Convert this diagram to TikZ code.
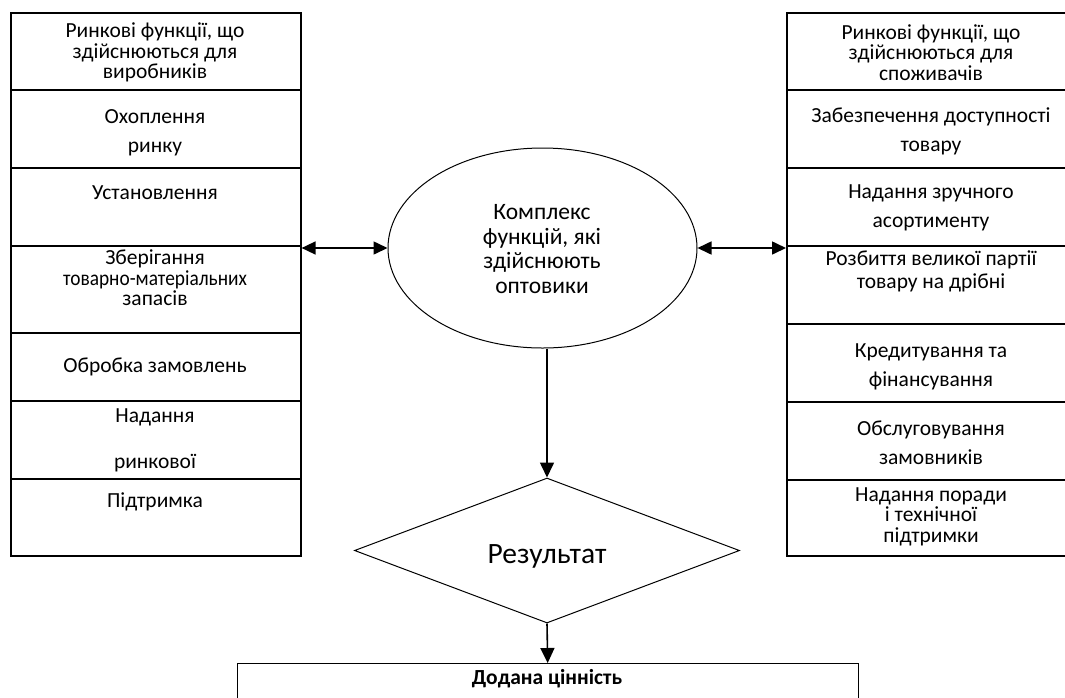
\documentclass[tikz,border=0pt]{standalone}
\usepackage{fontspec}
\setmainfont{Carlito}
\newfontfamily\narrowfont[FakeStretch=0.9]{Carlito}
\usetikzlibrary{shapes.geometric,arrows.meta}

\begin{document}
\begin{tikzpicture}[x=1pt,y=-1pt,
  cell/.style={draw, line width=1.6pt, inner sep=0, minimum width=290pt, anchor=north west},
  lbl/.style={inner sep=0, align=center, font=\fontsize{21.5}{20.5}\selectfont},
  wide/.style={lbl, font=\fontsize{21.5}{29}\selectfont},
  flow/.style={line width=1.6pt, -{Triangle[length=15pt,width=14pt]}},
  twoway/.style={line width=1.6pt, {Triangle[length=14pt,width=13pt]}-{Triangle[length=14pt,width=13pt]}},
]
\useasboundingbox (0,0) rectangle (1065,697);
\clip (0,0) rectangle (1065,697);

% left column: functions for producers
\node[cell, minimum height=77pt] (L1) at (10,12) {};
\node[cell, minimum height=78pt] (L2) at (10,89) {};
\node[cell, minimum height=78pt] (L3) at (10,167) {};
\node[cell, minimum height=87pt] (L4) at (10,245) {};
\node[cell, minimum height=68pt] (L5) at (10,332) {};
\node[cell, minimum height=78pt] (L6) at (10,400) {};
\node[cell, minimum height=77pt] (L7) at (10,478) {};

\node[lbl] (tL1) at (155,52.5) {Ринкові функції, що\\здійснюються для\\виробників};
\node[wide] (tL2) at (155,132.5) {Охоплення\\ринку};
\node[lbl] (tL3) at (155,193) {Установлення};
\node[lbl] (tL4) at (155,278) {Зберігання\\{\narrowfont товарно-матеріальних}\\запасів};
\node[lbl] (tL5) at (155,367) {Обробка замовлень};
\node[lbl, font=\fontsize{21.5}{46}\selectfont] (tL6) at (155,440) {Надання\\ринкової};
\node[lbl] (tL7) at (155,502) {Підтримка};

% right column: functions for consumers
\node[cell, minimum height=77pt] (R1) at (786,12) {};
\node[cell, minimum height=78pt] (R2) at (786,89) {};
\node[cell, minimum height=78pt] (R3) at (786,167) {};
\node[cell, minimum height=78pt] (R4) at (786,245) {};
\node[cell, minimum height=78pt] (R5) at (786,323) {};
\node[cell, minimum height=78pt] (R6) at (786,401) {};
\node[cell, minimum height=76pt] (R7) at (786,479) {};

\node[lbl] (tR1) at (931,52.5) {Ринкові функції, що\\здійснюються для\\споживачів};
\node[wide] (tR2) at (931,131) {Забезпечення доступності\\товару};
\node[wide] (tR3) at (931,207.5) {Надання зручного\\асортименту};
\node[lbl, font=\fontsize{21.5}{23}\selectfont] (tR4) at (931,271) {Розбиття великої партії\\товару на дрібні};
\node[wide] (tR5) at (931,366.5) {Кредитування та\\фінансування};
\node[wide] (tR6) at (931,442.5) {Обслуговування\\замовників};
\node[lbl] (tR7) at (931,516.5) {Надання поради\\і технічної\\підтримки};

% centre: wholesaler functions, result, added value
\node[draw, ellipse, line width=1pt, minimum width=309pt, minimum height=200pt, inner sep=0] (ell) at (542.5,248) {};
\node[lbl, font=\fontsize{23.5}{24.7}\selectfont] (tell) at (542,249) {Комплекс\\функцій, які\\здійснюють\\оптовики};

\node[draw, diamond, line width=1pt, minimum width=385pt, minimum height=145pt, inner sep=0] (res) at (547,550.5) {};
\node[lbl, font=\fontsize{29.5}{32}\selectfont] (tres) at (547,556) {Результат};

\node[cell, line width=1.4pt, minimum width=621pt, minimum height=60pt] (val) at (236.5,663) {};
\node[lbl, font=\fontsize{21.5}{24}\bfseries] (tval) at (547,679) {Додана цінність};

% connectors
\draw[twoway] (L3.south east |- ell.west) -- (ell.west);
\draw[twoway] (ell.east) -- (R3.south west |- ell.east);
\draw[flow] (res.north |- ell.south) -- (res.north);
\draw[flow] (res.south) -- (val.north);
\end{tikzpicture}
\end{document}
